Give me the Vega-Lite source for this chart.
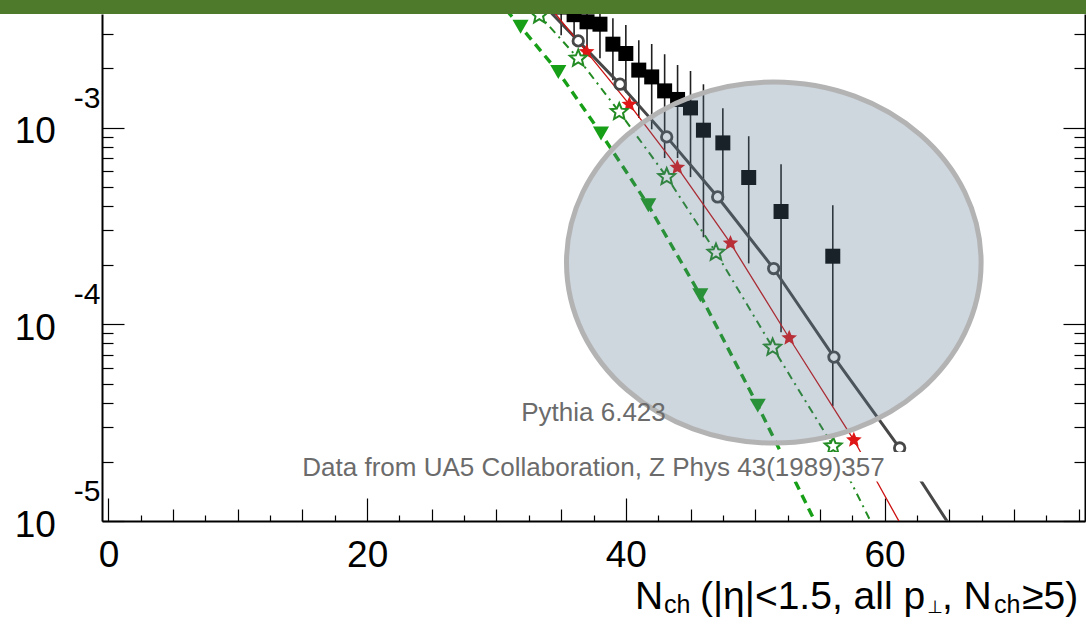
{
  "$schema": "https://vega.github.io/schema/vega-lite/v6.json",
  "width": 983,
  "height": 507,
  "autosize": {"type": "none"},
  "padding": {"left": 102, "top": 14, "right": 1, "bottom": 98},
  "background": "white",
  "config": {
    "view": {"stroke": null},
    "axis": {"grid": false, "labelFlush": false, "labelOverlap": false, "labelBound": false, "tickColor": "black", "tickWidth": 1.2, "domainColor": "black", "domainWidth": 2, "labelColor": "black", "labelFont": "Liberation Sans"}
  },
  "datasets": {
    "ua5": [
      {"x": 35, "y": 0.0041, "lo": 0.00295, "hi": 0.0053},
      {"x": 36, "y": 0.00375, "lo": 0.00285, "hi": 0.00465},
      {"x": 37, "y": 0.00345, "lo": 0.00242, "hi": 0.00448},
      {"x": 38, "y": 0.003355, "lo": 0.00225, "hi": 0.00446},
      {"x": 39, "y": 0.002655, "lo": 0.00174, "hi": 0.0036},
      {"x": 40, "y": 0.00238, "lo": 0.00151, "hi": 0.00332},
      {"x": 41, "y": 0.00196, "lo": 0.00112, "hi": 0.00278},
      {"x": 42, "y": 0.00181, "lo": 0.00098, "hi": 0.00266},
      {"x": 43, "y": 0.001537, "lo": 0.0007, "hi": 0.00236},
      {"x": 44, "y": 0.00139, "lo": 0.0007, "hi": 0.00208},
      {"x": 45, "y": 0.001259, "lo": 0.00056, "hi": 0.00194},
      {"x": 46, "y": 0.00097, "lo": 0.000277, "hi": 0.00166},
      {"x": 47.5, "y": 0.000836, "lo": 0.000428, "hi": 0.001255},
      {"x": 49.5, "y": 0.0005575, "lo": 0.000204, "hi": 0.000904},
      {"x": 52, "y": 0.0003745, "lo": 0.0000912, "hi": 0.000651},
      {"x": 56, "y": 0.0002219, "lo": 0.0000383, "hi": 0.000403}
    ],
    "mc": [
      {"s": "A", "x": 33, "y": 0.00465},
      {"s": "A", "x": 36.32, "y": 0.002759},
      {"s": "A", "x": 39.55, "y": 0.001662},
      {"s": "A", "x": 43.16, "y": 0.000897},
      {"s": "A", "x": 47.1, "y": 0.000444},
      {"s": "A", "x": 51.43, "y": 0.0001921},
      {"s": "A", "x": 56.09, "y": 0.0000681},
      {"s": "A", "x": 61.17, "y": 0.0000235},
      {"s": "A", "x": 66, "y": 0.0000076},
      {"s": "B", "x": 33, "y": 0.00505},
      {"s": "B", "x": 36.97, "y": 0.002426},
      {"s": "B", "x": 40.27, "y": 0.001311},
      {"s": "B", "x": 43.98, "y": 0.000627},
      {"s": "B", "x": 48.09, "y": 0.0002584},
      {"s": "B", "x": 52.63, "y": 0.0000852},
      {"s": "B", "x": 57.63, "y": 0.0000258},
      {"s": "B", "x": 63, "y": 0.00000597},
      {"s": "C", "x": 31, "y": 0.00546},
      {"s": "C", "x": 33.31, "y": 0.003727},
      {"s": "C", "x": 36.32, "y": 0.002246},
      {"s": "C", "x": 39.49, "y": 0.001202},
      {"s": "C", "x": 43.16, "y": 0.0005616},
      {"s": "C", "x": 46.97, "y": 0.0002317},
      {"s": "C", "x": 51.35, "y": 0.0000763},
      {"s": "C", "x": 56.03, "y": 0.000024},
      {"s": "C", "x": 61, "y": 0.0000053},
      {"s": "D", "x": 30, "y": 0.00454},
      {"s": "D", "x": 31.86, "y": 0.003258},
      {"s": "D", "x": 34.78, "y": 0.001919},
      {"s": "D", "x": 38.08, "y": 0.000933},
      {"s": "D", "x": 41.74, "y": 0.000403},
      {"s": "D", "x": 45.76, "y": 0.0001406},
      {"s": "D", "x": 50.2, "y": 0.0000386},
      {"s": "D", "x": 57, "y": 0.0000048}
    ],
    "ellipse": [{"x": 51.44, "y": 0.0002061}],
    "notes": [
      {"t": "Pythia 6.423", "x": 37.5, "y": 0.00003225},
      {"t": "Data from UA5 Collaboration, Z Phys 43(1989)357", "x": 37.5, "y": 0.00001693}
    ],
    "box": [{"x1": 14, "x2": 63.2, "y1": 0.00002243, "y2": 0.00001589}],
    "band": [{"x1": -20, "x2": 90, "y1": 0.00378, "y2": 1}],
    "tmain": [
      {"t": "N", "x": 40.71, "y": 0.000003569},
      {"t": "(|η|<1.5, all p", "x": 45.73, "y": 0.000003569},
      {"t": ", N", "x": 64.44, "y": 0.000003569},
      {"t": "≥5)", "x": 70.64, "y": 0.000003569}
    ],
    "tsub": [
      {"t": "ch", "x": 42.95, "y": 0.000003405},
      {"t": "ch", "x": 68.47, "y": 0.000003405}
    ],
    "tperp": [
      {"t": "⊥", "x": 63.3, "y": 0.000003405}
    ]
  },
  "resolve": {"axis": {"x": "independent", "y": "independent"}},
  "layer": [
    {
      "data": {"name": "ua5"},
      "mark": {"type": "rule", "color": "#1f1f1f", "strokeWidth": 1.6, "clip": true},
      "encoding": {
        "x": {"field": "x", "type": "quantitative", "scale": {"domain": [-0.5, 75.5], "nice": false, "zero": false},
              "axis": {"orient": "bottom", "values": [0, 20, 40, 60], "tickSize": -23, "labels": false, "domain": true, "title": null}},
        "y": {"field": "lo", "type": "quantitative", "scale": {"type": "log", "domain": [0.00001, 0.00378], "nice": false},
              "axis": {"orient": "left", "values": [0.00001, 0.0001, 0.001], "tickSize": -22, "labels": false, "domain": true, "title": null}},
        "y2": {"field": "hi"}
      }
    },
    {
      "data": {"name": "ua5"},
      "mark": {"type": "point", "shape": "square", "filled": true, "size": 225, "color": "black", "opacity": 1, "clip": true},
      "encoding": {
        "x": {"field": "x", "type": "quantitative", "scale": {"domain": [-0.5, 75.5], "nice": false, "zero": false},
              "axis": {"orient": "bottom", "values": [5, 10, 15, 25, 30, 35, 45, 50, 55, 65, 70, 75], "tickSize": -12, "labels": false, "domain": false, "title": null}},
        "y": {"field": "y", "type": "quantitative", "scale": {"type": "log", "domain": [0.00001, 0.00378], "nice": false},
              "axis": {"orient": "left", "values": [0.00002, 0.00003, 0.00004, 0.00005, 0.00006, 0.00007, 0.00008, 0.00009, 0.0002, 0.0003, 0.0004, 0.0005, 0.0006, 0.0007, 0.0008, 0.0009, 0.002, 0.003], "tickSize": -11, "labels": false, "domain": false, "title": null}}
      }
    },
    {
      "data": {"name": "mc"},
      "transform": [{"filter": "datum.s == 'A'"}],
      "mark": {"type": "line", "color": "#474747", "strokeWidth": 3, "clip": true},
      "encoding": {
        "x": {"field": "x", "type": "quantitative", "scale": {"domain": [-0.5, 75.5], "nice": false, "zero": false},
              "axis": {"orient": "bottom", "values": [2.5, 7.5, 12.5, 17.5, 22.5, 27.5, 32.5, 37.5, 42.5, 47.5, 52.5, 57.5, 62.5, 67.5, 72.5], "tickSize": -6, "labels": false, "domain": false, "title": null}},
        "y": {"field": "y", "type": "quantitative", "scale": {"type": "log", "domain": [0.00001, 0.00378], "nice": false},
              "axis": {"orient": "left", "values": [0.00001, 0.0001, 0.001], "ticks": false, "domain": false, "labelExpr": "'10'", "labelFontSize": 37, "labelPadding": 46.6, "labelOffset": 4, "labelAlign": "right", "labelBaseline": "middle", "title": null}}
      }
    },
    {
      "data": {"name": "mc"},
      "transform": [{"filter": "datum.s == 'B'"}],
      "mark": {"type": "line", "color": "#cc1111", "strokeWidth": 1.3, "clip": true},
      "encoding": {
        "x": {"field": "x", "type": "quantitative", "scale": {"domain": [-0.5, 75.5], "nice": false, "zero": false},
              "axis": {"orient": "bottom", "values": [0, 20, 40, 60], "ticks": false, "domain": false, "format": "d", "labelFontSize": 37, "labelPadding": 16, "labelBaseline": "top", "labelAlign": "center", "title": null}},
        "y": {"field": "y", "type": "quantitative", "scale": {"type": "log", "domain": [0.00001, 0.00378], "nice": false},
              "axis": {"orient": "left", "values": [0.00001, 0.0001, 0.001], "ticks": false, "domain": false, "labelExpr": "'-' + round(-log(datum.value)/LN10)", "labelFontSize": 30, "labelPadding": 2, "labelOffset": -29.5, "labelAlign": "right", "labelBaseline": "middle", "title": null}}
      }
    },
    {
      "data": {"name": "mc"},
      "transform": [{"filter": "datum.s == 'C'"}],
      "mark": {"type": "line", "color": "#228b22", "strokeWidth": 2, "strokeDash": [8, 5, 2, 5], "clip": true},
      "encoding": {
        "x": {"field": "x", "type": "quantitative", "scale": {"domain": [-0.5, 75.5], "nice": false, "zero": false}, "axis": null},
        "y": {"field": "y", "type": "quantitative", "scale": {"type": "log", "domain": [0.00001, 0.00378], "nice": false},
              "axis": {"orient": "right", "values": [0.00001, 0.0001, 0.001], "tickSize": -22, "labels": false, "domain": true, "title": null}}
      }
    },
    {
      "data": {"name": "mc"},
      "transform": [{"filter": "datum.s == 'D'"}],
      "mark": {"type": "line", "color": "#17a017", "strokeWidth": 3.4, "strokeDash": [9, 6], "clip": true},
      "encoding": {
        "x": {"field": "x", "type": "quantitative", "scale": {"domain": [-0.5, 75.5], "nice": false, "zero": false}, "axis": null},
        "y": {"field": "y", "type": "quantitative", "scale": {"type": "log", "domain": [0.00001, 0.00378], "nice": false},
              "axis": {"orient": "right", "values": [0.00002, 0.00003, 0.00004, 0.00005, 0.00006, 0.00007, 0.00008, 0.00009, 0.0002, 0.0003, 0.0004, 0.0005, 0.0006, 0.0007, 0.0008, 0.0009, 0.002, 0.003], "tickSize": -11, "labels": false, "domain": false, "title": null}}
      }
    },
    {
      "data": {"name": "mc"},
      "transform": [{"filter": "datum.s == 'A'"}],
      "mark": {"type": "point", "shape": "circle", "size": 110, "fill": "white", "stroke": "#474747", "strokeWidth": 2.8, "opacity": 1, "clip": true},
      "encoding": {
        "x": {"field": "x", "type": "quantitative", "scale": {"domain": [-0.5, 75.5], "nice": false, "zero": false}, "axis": null},
        "y": {"field": "y", "type": "quantitative", "scale": {"type": "log", "domain": [0.00001, 0.00378], "nice": false}, "axis": null}
      }
    },
    {
      "data": {"name": "mc"},
      "transform": [{"filter": "datum.s == 'B'"}],
      "mark": {"type": "point", "shape": "M 0 -1 L 0.2645 -0.364 L 0.9511 -0.309 L 0.428 0.139 L 0.5878 0.809 L 0 0.45 L -0.5878 0.809 L -0.428 0.139 L -0.9511 -0.309 L -0.2645 -0.364 Z", "size": 270, "filled": true, "color": "#e01515", "opacity": 1, "clip": true},
      "encoding": {
        "x": {"field": "x", "type": "quantitative", "scale": {"domain": [-0.5, 75.5], "nice": false, "zero": false}, "axis": null},
        "y": {"field": "y", "type": "quantitative", "scale": {"type": "log", "domain": [0.00001, 0.00378], "nice": false}, "axis": null}
      }
    },
    {
      "data": {"name": "mc"},
      "transform": [{"filter": "datum.s == 'C'"}],
      "mark": {"type": "point", "shape": "M 0 -1 L 0.2645 -0.364 L 0.9511 -0.309 L 0.428 0.139 L 0.5878 0.809 L 0 0.45 L -0.5878 0.809 L -0.428 0.139 L -0.9511 -0.309 L -0.2645 -0.364 Z", "size": 310, "fill": "white", "stroke": "#228b22", "strokeWidth": 2, "opacity": 1, "clip": true},
      "encoding": {
        "x": {"field": "x", "type": "quantitative", "scale": {"domain": [-0.5, 75.5], "nice": false, "zero": false}, "axis": null},
        "y": {"field": "y", "type": "quantitative", "scale": {"type": "log", "domain": [0.00001, 0.00378], "nice": false}, "axis": null}
      }
    },
    {
      "data": {"name": "mc"},
      "transform": [{"filter": "datum.s == 'D'"}],
      "mark": {"type": "point", "shape": "triangle-down", "size": 260, "filled": true, "color": "#17a017", "opacity": 1, "clip": true},
      "encoding": {
        "x": {"field": "x", "type": "quantitative", "scale": {"domain": [-0.5, 75.5], "nice": false, "zero": false}, "axis": null},
        "y": {"field": "y", "type": "quantitative", "scale": {"type": "log", "domain": [0.00001, 0.00378], "nice": false}, "axis": null}
      }
    },
    {
      "data": {"name": "ellipse"},
      "mark": {"type": "point", "shape": "M -1 0 C -1 -0.481 -0.5523 -0.871 0 -0.871 C 0.5523 -0.871 1 -0.481 1 0 C 1 0.481 0.5523 0.871 0 0.871 C -0.5523 0.871 -1 0.481 -1 0 Z", "size": 171900, "fill": "#55708e", "fillOpacity": 0.29, "stroke": "#b3b3b3", "strokeWidth": 5, "strokeOpacity": 1, "opacity": 1},
      "encoding": {
        "x": {"field": "x", "type": "quantitative", "scale": {"domain": [-0.5, 75.5], "nice": false, "zero": false}, "axis": null},
        "y": {"field": "y", "type": "quantitative", "scale": {"type": "log", "domain": [0.00001, 0.00378], "nice": false}, "axis": null}
      }
    },
    {
      "data": {"name": "box"},
      "mark": {"type": "rect", "color": "white"},
      "encoding": {
        "x": {"field": "x1", "type": "quantitative", "scale": {"domain": [-0.5, 75.5], "nice": false, "zero": false}, "axis": null},
        "x2": {"field": "x2"},
        "y": {"field": "y1", "type": "quantitative", "scale": {"type": "log", "domain": [0.00001, 0.00378], "nice": false}, "axis": null},
        "y2": {"field": "y2"}
      }
    },
    {
      "data": {"name": "notes"},
      "mark": {"type": "text", "align": "center", "baseline": "alphabetic", "font": "Liberation Sans", "fontSize": 26, "color": "#6b6b6b"},
      "encoding": {
        "x": {"field": "x", "type": "quantitative", "scale": {"domain": [-0.5, 75.5], "nice": false, "zero": false}, "axis": null},
        "y": {"field": "y", "type": "quantitative", "scale": {"type": "log", "domain": [0.00001, 0.00378], "nice": false}, "axis": null},
        "text": {"field": "t"}
      }
    },
    {
      "data": {"name": "tmain"},
      "mark": {"type": "text", "align": "left", "baseline": "alphabetic", "font": "Liberation Sans", "fontSize": 39, "color": "black"},
      "encoding": {
        "x": {"field": "x", "type": "quantitative", "scale": {"domain": [-0.5, 75.5], "nice": false, "zero": false}, "axis": null},
        "y": {"field": "y", "type": "quantitative", "scale": {"type": "log", "domain": [0.00001, 0.00378], "nice": false}, "axis": null},
        "text": {"field": "t"}
      }
    },
    {
      "data": {"name": "tsub"},
      "mark": {"type": "text", "align": "left", "baseline": "alphabetic", "font": "Liberation Sans", "fontSize": 25, "color": "black"},
      "encoding": {
        "x": {"field": "x", "type": "quantitative", "scale": {"domain": [-0.5, 75.5], "nice": false, "zero": false}, "axis": null},
        "y": {"field": "y", "type": "quantitative", "scale": {"type": "log", "domain": [0.00001, 0.00378], "nice": false}, "axis": null},
        "text": {"field": "t"}
      }
    },
    {
      "data": {"name": "tperp"},
      "mark": {"type": "text", "align": "left", "baseline": "alphabetic", "font": "DejaVu Sans", "fontSize": 18, "color": "black"},
      "encoding": {
        "x": {"field": "x", "type": "quantitative", "scale": {"domain": [-0.5, 75.5], "nice": false, "zero": false}, "axis": null},
        "y": {"field": "y", "type": "quantitative", "scale": {"type": "log", "domain": [0.00001, 0.00378], "nice": false}, "axis": null},
        "text": {"field": "t"}
      }
    },
    {
      "data": {"name": "band"},
      "mark": {"type": "rect", "color": "#4e7a2b"},
      "encoding": {
        "x": {"field": "x1", "type": "quantitative", "scale": {"domain": [-0.5, 75.5], "nice": false, "zero": false}, "axis": null},
        "x2": {"field": "x2"},
        "y": {"field": "y1", "type": "quantitative", "scale": {"type": "log", "domain": [0.00001, 0.00378], "nice": false}, "axis": null},
        "y2": {"field": "y2"}
      }
    }
  ]
}
